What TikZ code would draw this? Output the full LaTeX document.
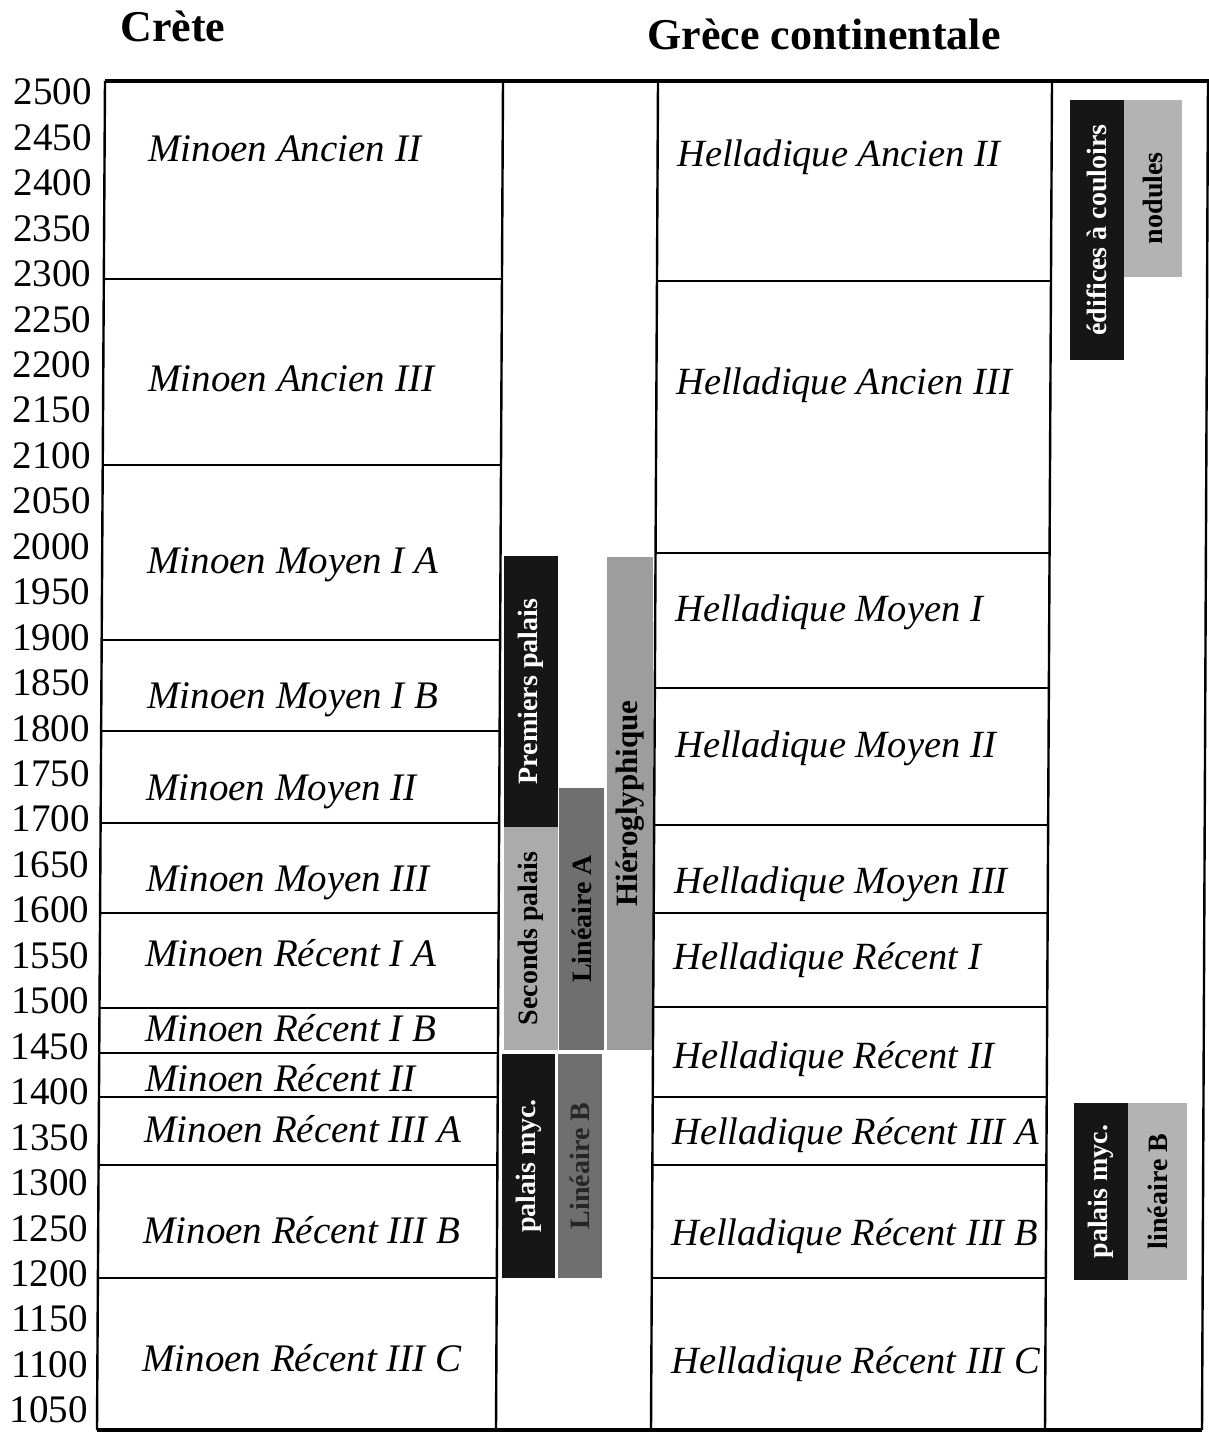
\documentclass[tikz,border=0pt]{standalone}
\usepackage{fontspec}
\setmainfont{Liberation Serif}
\usetikzlibrary{calc}
\definecolor{barblack}{HTML}{161616}
\definecolor{secgray}{HTML}{ABABAB}
\definecolor{lingray}{HTML}{6F6F6F}
\definecolor{hiergray}{HTML}{9D9D9D}
\definecolor{nodgray}{HTML}{B3B3B3}
\begin{document}
\begin{tikzpicture}[x=1pt,y=-1pt,
  yearlabel/.style={anchor=east,inner sep=0pt,font=\fontsize{39}{39}\selectfont},
  perlabel/.style={anchor=base west,inner sep=0pt,font=\fontsize{39}{39}\selectfont\itshape},
  perlabelR/.style={anchor=base west,inner sep=0pt,font=\fontsize{38.5}{38.5}\selectfont\itshape},
  titlelabel/.style={anchor=base,inner sep=0pt,font=\fontsize{44}{44}\selectfont\bfseries},
  barbox/.style={rotate=90,inner sep=0pt,outer sep=0pt,font=\fontsize{28}{28}\selectfont\bfseries},
  gridrule/.style={line width=2pt,black},
  vrule/.style={line width=2.4pt,black},
  framerule/.style={line width=3.6pt,black},
]
\useasboundingbox (0,0) rectangle (1209,1432);
\fill[white] (0,0) rectangle (1209,1432);

% titles
\node[titlelabel] (crete) at (173,41) {Crète};
\node[titlelabel] (grece) at (824,49) {Grèce continentale};

% column corner coordinates (slightly skewed, as in the scan)
\coordinate (L0) at (105,81);  \coordinate (L1) at (97,1430);
\coordinate (A0) at (503,81);  \coordinate (A1) at (496,1430);
\coordinate (B0) at (658,81);  \coordinate (B1) at (651,1430);
\coordinate (C0) at (1052,81); \coordinate (C1) at (1045,1430);
\coordinate (R0) at (1208,81); \coordinate (R1) at (1202,1430);

% bars, middle column
\node[barbox,fill=barblack,text=white,minimum width=271pt,minimum height=54pt] (premiers) at (531,691.5) {Premiers palais};
\node[barbox,fill=secgray,text=black,minimum width=223pt,minimum height=54pt] (seconds) at (531,938.5) {Seconds palais};
\node[barbox,fill=lingray,text=black,minimum width=262pt,minimum height=45pt] (linA) at (581.5,919) {Linéaire A};
\node[barbox,fill=hiergray,text=black,minimum width=493pt,minimum height=46pt,font=\fontsize{31}{31}\selectfont\bfseries] (hiero) at (630,803.5) {Hiéroglyphique};
\node[barbox,fill=barblack,text=white,minimum width=224pt,minimum height=53pt] (mycL) at (528.5,1166) {palais myc.};
\node[barbox,fill=lingray,text=black!85,minimum width=224pt,minimum height=44pt] (linBL) at (580,1166) {Linéaire B};

% bars, right column
\node[barbox,fill=barblack,text=white,minimum width=260pt,minimum height=54pt] (edifices) at (1097,230) {édifices à couloirs};
\node[barbox,fill=nodgray,text=black,minimum width=177pt,minimum height=58pt,text width=111pt,align=left] (nodules) at (1153,188.5) {nodules};
\node[barbox,fill=barblack,text=white,minimum width=177pt,minimum height=54pt] (mycR) at (1101,1191.5) {palais myc.};
\node[barbox,fill=nodgray,text=black,minimum width=177pt,minimum height=59pt] (linBR) at (1157.5,1191.5) {linéaire B};

% frame and vertical rules
\draw[vrule] (L0) -- (L1);
\draw[vrule] (A0) -- (A1);
\draw[vrule] (B0) -- (B1);
\draw[vrule] (C0) -- (C1);
\draw[vrule] (R0) -- (R1);
\draw[framerule] (L0) -- (1209,81);
\draw[framerule] (L1) -- (R1);

% horizontal rules, Crete
\foreach \yy in {279,465,640,731,823,913,1008,1053,1097,1165,1278} {
  \pgfmathsetmacro\ff{(\yy-81)/1349}
  \draw[gridrule] ($(L0)!\ff!(L1)$) -- ($(A0)!\ff!(A1)$);
}
% horizontal rules, Grece continentale
\foreach \yy in {281,553,688,825,913,1007,1097,1165,1278} {
  \pgfmathsetmacro\ff{(\yy-81)/1349}
  \draw[gridrule] ($(B0)!\ff!(B1)$) -- ($(C0)!\ff!(C1)$);
}

% year scale
\foreach \i in {0,...,29} {
  \pgfmathtruncatemacro\yr{2500-50*\i}
  \node[yearlabel] (yr\yr) at ({92-4*\i/29},{92+45.45*\i}) {\yr};
}

% Crete periods
\node[perlabel] (ma2)  at (148,161)  {Minoen Ancien II};
\node[perlabel] (ma3)  at (148,391)  {Minoen Ancien III};
\node[perlabel] (mm1a) at (147,573)  {Minoen Moyen I A};
\node[perlabel] (mm1b) at (147,708)  {Minoen Moyen I B};
\node[perlabel] (mm2)  at (146,800)  {Minoen Moyen II};
\node[perlabel] (mm3)  at (146,891)  {Minoen Moyen III};
\node[perlabel] (mr1a) at (145,966)  {Minoen Récent I A};
\node[perlabel] (mr1b) at (145,1041) {Minoen Récent I B};
\node[perlabel] (mr2)  at (145,1091) {Minoen Récent II};
\node[perlabel] (mr3a) at (144,1142) {Minoen Récent III A};
\node[perlabel] (mr3b) at (143,1243) {Minoen Récent III B};
\node[perlabel] (mr3c) at (142,1371) {Minoen Récent III C};

% Greek mainland periods
\node[perlabelR] (ha2)  at (677,166)  {Helladique Ancien II};
\node[perlabelR] (ha3)  at (676,394)  {Helladique Ancien III};
\node[perlabelR] (hm1)  at (675,621)  {Helladique Moyen I};
\node[perlabelR] (hm2)  at (675,757)  {Helladique Moyen II};
\node[perlabelR] (hm3)  at (674,893)  {Helladique Moyen III};
\node[perlabelR] (hr1)  at (673,969)  {Helladique Récent I};
\node[perlabelR] (hr2)  at (673,1068) {Helladique Récent II};
\node[perlabelR] (hr3a) at (672,1144) {Helladique Récent III A};
\node[perlabelR] (hr3b) at (671,1245) {Helladique Récent III B};
\node[perlabelR] (hr3c) at (671,1373) {Helladique Récent III C};
\end{tikzpicture}
\end{document}
